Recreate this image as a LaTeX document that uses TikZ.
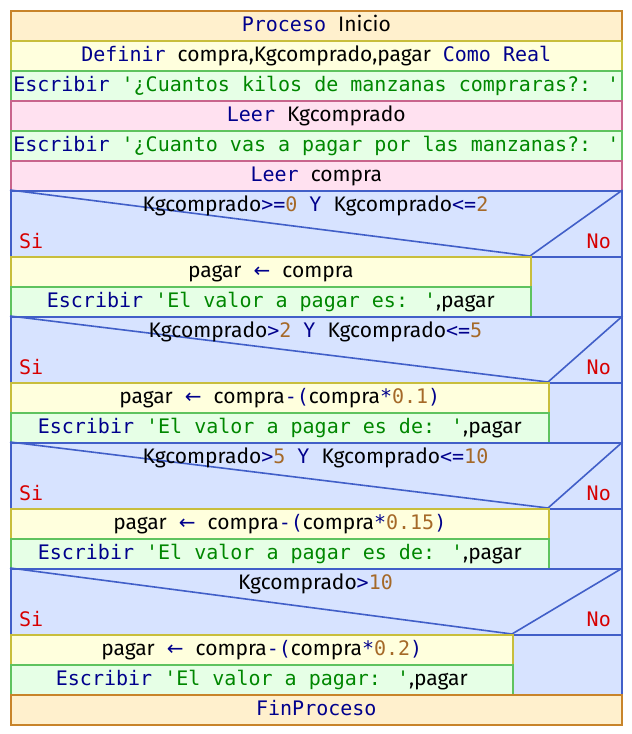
\documentclass[tikz,border=0pt]{standalone}
\usepackage{fontspec}
\newfontfamily\monof[Ligatures=TeXOff]{DejaVu Sans Mono}
\newfontfamily\propf[Ligatures=TeXOff]{Fira Sans}
\newfontfamily\arrowf{DejaVu Sans}

\definecolor{kwC}{RGB}{0,0,140}
\definecolor{stC}{RGB}{0,135,0}
\definecolor{nmC}{RGB}{165,105,40}
\definecolor{siC}{RGB}{215,0,0}
\definecolor{procF}{RGB}{255,240,205}
\definecolor{procD}{RGB}{200,132,42}
\definecolor{asgF}{RGB}{255,255,221}
\definecolor{asgD}{RGB}{200,190,60}
\definecolor{wrF}{RGB}{230,255,230}
\definecolor{wrD}{RGB}{95,195,95}
\definecolor{rdF}{RGB}{255,225,240}
\definecolor{rdD}{RGB}{200,100,140}
\definecolor{decF}{RGB}{215,227,255}
\definecolor{decD}{RGB}{65,95,200}

% token colouring
\newcommand{\kw}[1]{{\monof\color{kwC}#1}}
\newcommand{\st}[1]{{\monof\color{stC}#1}}
\newcommand{\nm}[1]{{\monof\color{nmC}#1}}
\newcommand{\vr}[1]{{\propf\fontsize{21}{25}\selectfont\color{black}#1}}
\newcommand{\asg}{{\arrowf\color{kwC}←}}

\tikzset{
  txt/.style={inner sep=0pt, text height=15pt, text depth=4pt,
              font=\monof\fontsize{20}{25}\selectfont},
  blk/.style={txt, line width=1.6pt, minimum height=30pt, anchor=north west},
  procbox/.style={blk, draw=procD, fill=procF},
  asgbox/.style={blk, draw=asgD, fill=asgF},
  wrbox/.style={blk, draw=wrD, fill=wrF},
  rdbox/.style={blk, draw=rdD, fill=rdF},
  decbox/.style={blk, draw=decD, fill=decF, minimum height=66pt},
  nobox/.style={blk, draw=decD, fill=decF, minimum height=60pt},
  decline/.style={draw=decD, line width=1.6pt},
  silbl/.style={txt, text=siC, anchor=west},
  nolbl/.style={txt, text=siC, anchor=east},
}

\begin{document}
\begin{tikzpicture}[x=1pt,y=-1pt]
\useasboundingbox (0,0) rectangle (632,734);
\fill[white] (0,0) rectangle (632,734);

% header and input section
\node[procbox, minimum width=611pt] (inicio) at (10,10) {\kw{Proceso} \vr{Inicio}};
\node[asgbox, minimum width=611pt] (def) at (10,40) {\kw{Definir} \vr{compra,Kgcomprado,pagar} \kw{Como Real}};
\node[wrbox, minimum width=611pt] (esc1) at (10,70) {\kw{Escribir} \st{'¿Cuantos kilos de manzanas compraras?: '}};
\node[rdbox, minimum width=611pt] (leer1) at (10,100) {\kw{Leer} \vr{Kgcomprado}};
\node[wrbox, minimum width=611pt] (esc2) at (10,130) {\kw{Escribir} \st{'¿Cuanto vas a pagar por las manzanas?: '}};
\node[rdbox, minimum width=611pt] (leer2) at (10,160) {\kw{Leer} \vr{compra}};

% first condition
\node[decbox, minimum width=611pt] (d1) at (10,190) {};
\coordinate (d1s) at (530,256);
\draw[decline] (d1.north west) -- (d1s) -- (d1.north east);
\node[txt] (d1c) at (315.5,206) {\vr{Kgcomprado}\kw{>=}\nm{0} \kw{Y} \vr{Kgcomprado}\kw{<=}\nm{2}};
\node[silbl] (d1si) at (19,243) {Si};
\node[nolbl] (d1no) at (611,243) {No};
\node[nobox, minimum width=91pt] (n1) at (530,256) {};
\node[asgbox, minimum width=520pt] (a1) at (10,256) {\vr{pagar} \asg{} \vr{compra}};
\node[wrbox, minimum width=520pt] (w1) at (10,286) {\kw{Escribir} \st{'El valor a pagar es: '}\vr{,pagar}};

% second condition
\node[decbox, minimum width=611pt] (d2) at (10,316) {};
\coordinate (d2s) at (548,382);
\draw[decline] (d2.north west) -- (d2s) -- (d2.north east);
\node[txt] (d2c) at (315.5,332) {\vr{Kgcomprado}\kw{>}\nm{2} \kw{Y} \vr{Kgcomprado}\kw{<=}\nm{5}};
\node[silbl] (d2si) at (19,369) {Si};
\node[nolbl] (d2no) at (611,369) {No};
\node[nobox, minimum width=73pt] (n2) at (548,382) {};
\node[asgbox, minimum width=538pt] (a2) at (10,382) {\vr{pagar} \asg{} \vr{compra}\kw{-(}\vr{compra}\kw{*}\nm{0.1}\kw{)}};
\node[wrbox, minimum width=538pt] (w2) at (10,412) {\kw{Escribir} \st{'El valor a pagar es de: '}\vr{,pagar}};

% third condition
\node[decbox, minimum width=611pt] (d3) at (10,442) {};
\coordinate (d3s) at (548,508);
\draw[decline] (d3.north west) -- (d3s) -- (d3.north east);
\node[txt] (d3c) at (315.5,458) {\vr{Kgcomprado}\kw{>}\nm{5} \kw{Y} \vr{Kgcomprado}\kw{<=}\nm{10}};
\node[silbl] (d3si) at (19,495) {Si};
\node[nolbl] (d3no) at (611,495) {No};
\node[nobox, minimum width=73pt] (n3) at (548,508) {};
\node[asgbox, minimum width=538pt] (a3) at (10,508) {\vr{pagar} \asg{} \vr{compra}\kw{-(}\vr{compra}\kw{*}\nm{0.15}\kw{)}};
\node[wrbox, minimum width=538pt] (w3) at (10,538) {\kw{Escribir} \st{'El valor a pagar es de: '}\vr{,pagar}};

% fourth condition
\node[decbox, minimum width=611pt] (d4) at (10,568) {};
\coordinate (d4s) at (512,634);
\draw[decline] (d4.north west) -- (d4s) -- (d4.north east);
\node[txt] (d4c) at (315.5,584) {\vr{Kgcomprado}\kw{>}\nm{10}};
\node[silbl] (d4si) at (19,621) {Si};
\node[nolbl] (d4no) at (611,621) {No};
\node[nobox, minimum width=109pt] (n4) at (512,634) {};
\node[asgbox, minimum width=502pt] (a4) at (10,634) {\vr{pagar} \asg{} \vr{compra}\kw{-(}\vr{compra}\kw{*}\nm{0.2}\kw{)}};
\node[wrbox, minimum width=502pt] (w4) at (10,664) {\kw{Escribir} \st{'El valor a pagar: '}\vr{,pagar}};

% end
\node[procbox, minimum width=611pt] (fin) at (10,694) {\kw{FinProceso}};
\end{tikzpicture}
\end{document}
